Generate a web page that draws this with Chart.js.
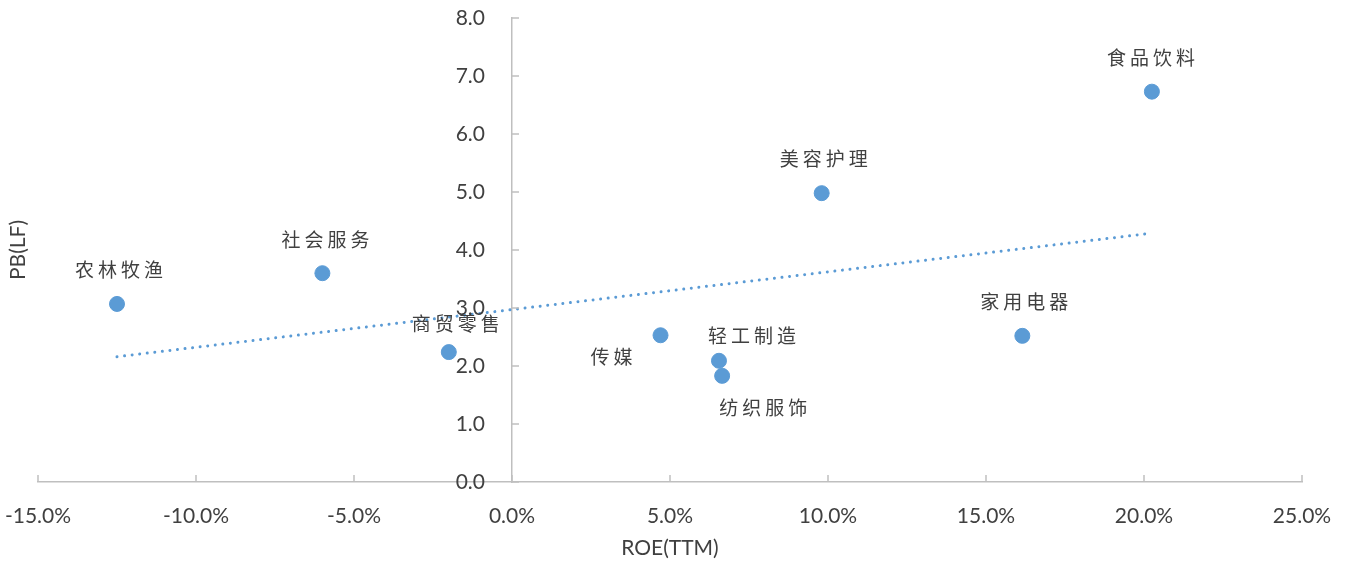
<!DOCTYPE html>
<html>
<head>
<meta charset="utf-8">
<script src="https://cdn.jsdelivr.net/npm/chart.js@4.4.0/dist/chart.umd.min.js"></script>
<style>
  html, body { margin: 0; padding: 0; background: #fff; }
  #wrap { width: 1349px; height: 563px; }
</style>
</head>
<body>
<div id="wrap"><canvas id="chart-area" width="1349" height="563"></canvas></div>
<script>
// Industry scatter: ROE (TTM, %) vs PB (LF)
let industries = ['农林牧渔', '社会服务', '商贸零售', '传媒', '轻工制造', '纺织服饰', '美容护理', '家用电器', '食品饮料'];
let roeValues = [-12.5, -6.0, -2.0, 4.7, 6.55, 6.65, 9.8, 16.15, 20.25];
let pbValues = [3.07, 3.60, 2.24, 2.53, 2.09, 1.83, 4.98, 2.52, 6.73];

// linear trend line (start / end)
let trendRoe = [-12.5, 20.25];
let trendPb = [2.16, 4.29];

let xTickValues = [-15, -10, -5, 0, 5, 10, 15, 20, 25];
let yTickValues = [0, 1, 2, 3, 4, 5, 6, 7, 8];
let xTitle = 'ROE(TTM)';
let yTitle = 'PB(LF)';

// where each data label sits relative to its point (px)
let labelShift = [[2, -34], [3, -33], [7, -28], [-49, 22], [33, -25], [41, 32], [2, -34], [2, -34], [-1, -34]];

let blue = '#5B9BD5';
let axisGrey = '#BFBFBF';
let textGrey = '#404040';
let latinFont = '21px Lato';

let scatterPoints = roeValues.map(function(v, i) { return {x: v, y: pbValues[i]}; });
let trendPoints = trendRoe.map(function(v, i) { return {x: v, y: trendPb[i]}; });

// tick marks point inward like Excel; y tick labels, data labels and y title drawn by hand
// (chart.js ignores ticks.padding when the axis sits at x = 0)
let extras = {
  id: 'extras',
  afterDatasetsDraw(chart) {
    let ctx = chart.ctx;
    let xs = chart.scales.x, ys = chart.scales.y;
    let x0 = xs.getPixelForValue(0), y0 = ys.getPixelForValue(0);
    ctx.save();
    ctx.strokeStyle = axisGrey;
    ctx.lineWidth = 1.5;
    xTickValues.forEach(function(v) {
      let px = xs.getPixelForValue(v);
      ctx.beginPath(); ctx.moveTo(px, y0); ctx.lineTo(px, y0 - 7); ctx.stroke();
    });
    yTickValues.forEach(function(v) {
      let py = ys.getPixelForValue(v);
      ctx.beginPath(); ctx.moveTo(x0, py); ctx.lineTo(x0 + 7, py); ctx.stroke();
    });

    ctx.fillStyle = textGrey;
    ctx.font = latinFont;
    ctx.textAlign = 'right';
    ctx.textBaseline = 'middle';
    yTickValues.forEach(function(v) {
      ctx.fillText(v.toFixed(1), x0 - 27, ys.getPixelForValue(v));
    });

    ctx.textAlign = 'center';
    ctx.font = '19px "Noto Sans CJK SC"';
    ctx.letterSpacing = '4px';
    industries.forEach(function(name, i) {
      let px = xs.getPixelForValue(roeValues[i]) + labelShift[i][0] + 2;
      let py = ys.getPixelForValue(pbValues[i]) + labelShift[i][1];
      ctx.fillText(name, px, py);
    });
    ctx.letterSpacing = '0px';

    ctx.font = latinFont;
    ctx.translate(18, (chart.chartArea.top + chart.chartArea.bottom) / 2);
    ctx.rotate(-Math.PI / 2);
    ctx.fillText(yTitle, 0, 0);
    ctx.restore();
  }
};

let ctx = document.getElementById('chart-area').getContext('2d');
let myScatter = new Chart(ctx, {
  type: 'scatter',
  data: {
    datasets: [{
      label: 'industries',
      data: scatterPoints,
      backgroundColor: blue,
      borderColor: blue,
      pointRadius: 7.5,
      pointHoverRadius: 7.5,
      order: 1
    }, {
      type: 'line',
      label: 'trend',
      data: trendPoints,
      borderColor: blue,
      borderWidth: 3,
      borderDash: [0.01, 7.6],
      borderCapStyle: 'round',
      pointRadius: 0,
      fill: false,
      order: 2
    }]
  },
  options: {
    responsive: false,
    animation: false,
    devicePixelRatio: 1,
    layout: { padding: { left: 38, right: 47, top: 18, bottom: 0 } },
    plugins: { legend: { display: false }, tooltip: { enabled: false } },
    scales: {
      x: {
        type: 'linear',
        position: 'bottom',
        min: -15, max: 25,
        afterBuildTicks: function(s) { s.ticks = xTickValues.map(function(v) { return {value: v}; }); },
        afterFit: function(s) { s.paddingLeft = 0; s.paddingRight = 0; s.height = 81; },
        grid: { display: false },
        border: { display: true, color: axisGrey, width: 1.5 },
        ticks: {
          padding: 14,
          color: textGrey,
          font: { family: 'Lato', size: 21 },
          callback: function(v) { return v.toFixed(1) + '%'; }
        },
        title: { display: true, text: xTitle, color: textGrey, font: { family: 'Lato', size: 21 }, padding: { top: 4, bottom: 2 } }
      },
      y: {
        type: 'linear',
        position: { x: 0 },
        min: 0, max: 8,
        afterBuildTicks: function(s) { s.ticks = yTickValues.map(function(v) { return {value: v}; }); },
        afterFit: function(s) { s.paddingTop = 0; s.paddingBottom = 0; },
        grid: { display: false },
        border: { display: true, color: axisGrey, width: 1.5 },
        ticks: { display: false }
      }
    }
  },
  plugins: [extras]
});
</script>
</body>
</html>
